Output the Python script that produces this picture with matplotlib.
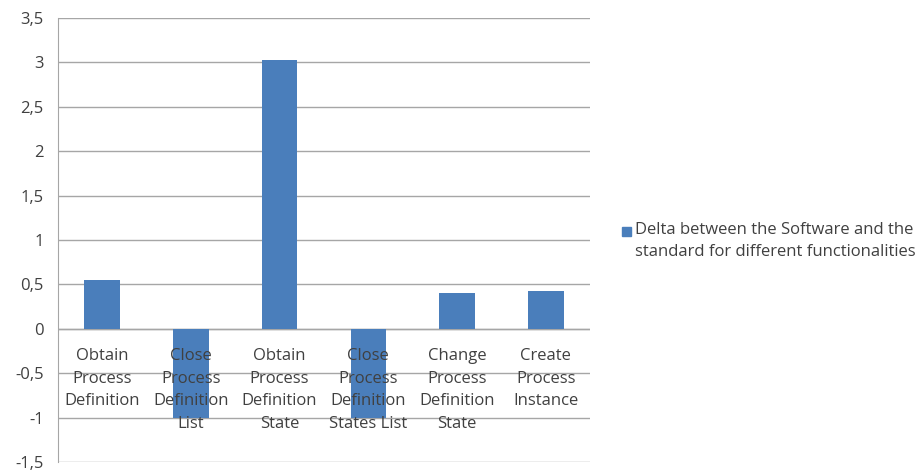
import numpy as np
import matplotlib.pyplot as plt
from matplotlib.patches import Rectangle
from matplotlib.ticker import MultipleLocator, FuncFormatter

categories = ['Obtain\nProcess\nDefinition', 'Close\nProcess\nDefinition\nList',
              'Obtain\nProcess\nDefinition\nState', 'Close\nProcess\nDefinition\nStates List',
              'Change\nProcess\nDefinition\nState', 'Create\nProcess\nInstance']
delta = [0.55, -1.0, 3.03, -1.0, 0.40, 0.43]
series_name = 'Delta between the Software and the\nstandard for different functionalities'

plt.rcParams['font.family'] = ['Open Sans', 'DejaVu Sans']
txt = '#404040'
grid = '#a6a6a6'
blue = '#4A7EBB'

fig = plt.figure(figsize=(9.15, 4.71), dpi=100)
ax = fig.add_axes([0.063, 0.019, 0.582, 0.943])

x = np.arange(len(categories))
ax.bar(x, delta, width=0.4, color=blue, zorder=2)

ax.set_xlim(-0.5, len(categories) - 0.5)
ax.set_ylim(-1.5, 3.5)
ax.yaxis.set_major_locator(MultipleLocator(0.5))
ax.yaxis.set_major_formatter(FuncFormatter(lambda v, p: ('%g' % v).replace('.', ',')))
ax.grid(axis='y', color=grid, linewidth=1, zorder=1)
ax.axhline(0, color=grid, linewidth=1, zorder=1)
ax.set_xticks([])
ax.tick_params(axis='y', length=0, pad=10, labelsize=12, labelcolor=txt)
for s in ['top', 'right', 'bottom']:
    ax.spines[s].set_visible(False)
ax.spines['left'].set_color(grid)

# category labels sit just under the zero line, like the original
for i, c in enumerate(categories):
    ax.annotate(c, (i, 0), xytext=(0, -14), textcoords='offset points',
                ha='center', va='top', fontsize=12, color=txt, linespacing=1.55,
                zorder=3)

# legend drawn by hand: square lines up with the first text line
fig.patches.append(Rectangle((622 / 915, 1 - 236 / 471), 9 / 915, 9 / 471,
                             transform=fig.transFigure, color=blue))
fig.text(635 / 915, 1 - 241 / 471, series_name, ha='left', va='center',
         fontsize=12, color=txt, linespacing=1.48)

fig.savefig('out.png', dpi=100)
